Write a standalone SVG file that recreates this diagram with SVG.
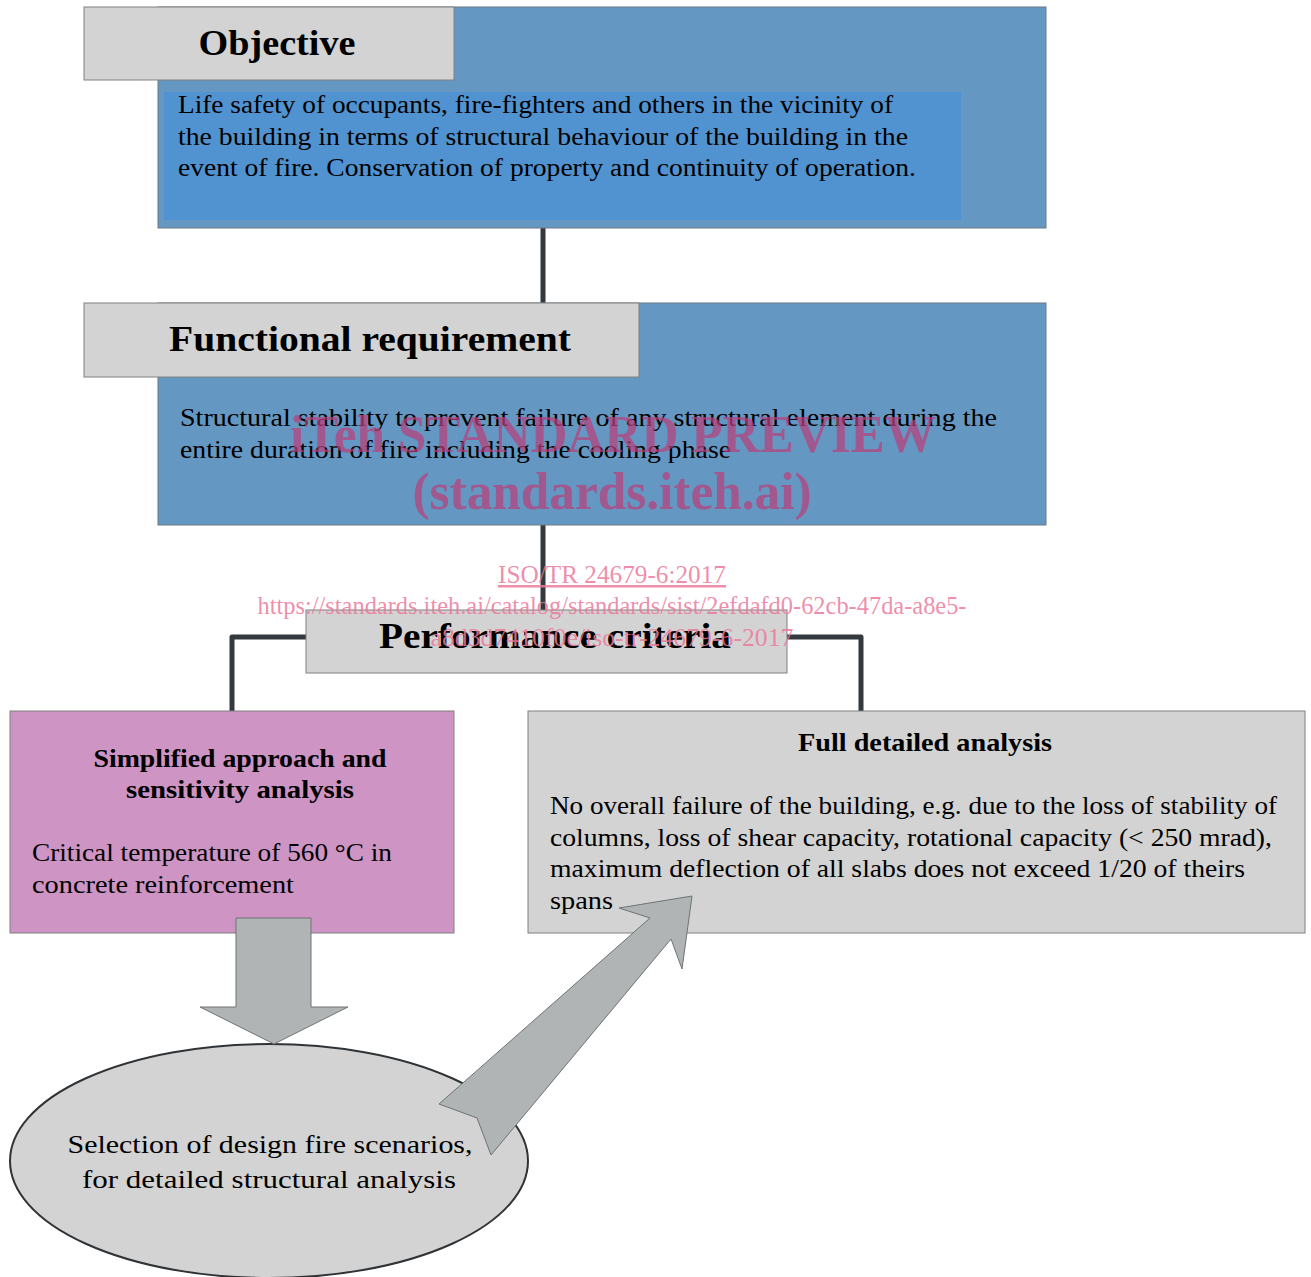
<svg xmlns="http://www.w3.org/2000/svg" width="1311" height="1277" viewBox="0 0 1311 1277">
<style>
.outer{fill:#6497c2;stroke:#6b7a88;stroke-width:1}
.inner{fill:#5093d0}
.hdr{fill:#d3d3d3;stroke:#808080;stroke-width:1}
.pink{fill:#cd94c4;stroke:#808080;stroke-width:1}
.gray{fill:#d3d3d3;stroke:#808080;stroke-width:1}
.arrow{fill:#b1b4b5;stroke:#6f7375;stroke-width:1}
.conn{fill:none;stroke:#33393d;stroke-width:5;stroke-linejoin:round;stroke-linecap:round}
text{font-family:"Liberation Serif","Times New Roman",serif;fill:#000}
.h1{font-size:35px;font-weight:bold}
.h2{font-size:25px;font-weight:bold}
.b{font-size:26px}
.wm1{font-size:52px;font-weight:bold;fill:#b8407c;fill-opacity:0.72}
.wm2{font-size:25px;fill:#ec7a9c;fill-opacity:0.85}
</style>
<g id="connectors">
<line class="conn" x1="543" y1="228" x2="543" y2="303"/>
<line class="conn" x1="543" y1="525" x2="543" y2="610"/>
<polyline class="conn" points="306,637 232,637 232,711"/>
<polyline class="conn" points="787,637 861,637 861,711"/>
</g>
<g id="objective">
<rect class="outer" x="158" y="7" width="888" height="221"/>
<rect class="inner" x="164" y="92" width="797" height="128"/>
<rect class="hdr" x="84" y="7" width="370" height="73"/>
<text class="h1" x="277" y="55" text-anchor="middle" textLength="157" lengthAdjust="spacingAndGlyphs">Objective</text>
<text class="b" x="178" y="113" textLength="715" lengthAdjust="spacingAndGlyphs">Life safety of occupants, fire-fighters and others in the vicinity of</text>
<text class="b" x="178" y="145" textLength="730" lengthAdjust="spacingAndGlyphs">the building in terms of structural behaviour of the building in the</text>
<text class="b" x="178" y="176" textLength="738" lengthAdjust="spacingAndGlyphs">event of fire. Conservation of property and continuity of operation.</text>
</g>
<g id="functional">
<rect class="outer" x="158" y="303" width="888" height="222"/>
<rect class="hdr" x="84" y="303" width="555" height="74"/>
<text class="h1" x="370" y="351" text-anchor="middle" textLength="402" lengthAdjust="spacingAndGlyphs">Functional requirement</text>
<text class="b" x="180" y="426" textLength="817" lengthAdjust="spacingAndGlyphs">Structural stability to prevent failure of any structural element during the</text>
<text class="b" x="180" y="458" textLength="551" lengthAdjust="spacingAndGlyphs">entire duration of fire including the cooling phase</text>
</g>
<g id="performance">
<rect class="hdr" x="306" y="610" width="481" height="63"/>
<text class="h1" x="555" y="648" text-anchor="middle" textLength="352" lengthAdjust="spacingAndGlyphs">Performance criteria</text>
</g>
<g id="simplified">
<rect class="pink" x="10" y="711" width="444" height="222"/>
<text class="h2" x="240" y="767" text-anchor="middle" textLength="293" lengthAdjust="spacingAndGlyphs">Simplified approach and</text>
<text class="h2" x="240" y="798" text-anchor="middle" textLength="228" lengthAdjust="spacingAndGlyphs">sensitivity analysis</text>
<text class="b" x="32" y="861" textLength="360" lengthAdjust="spacingAndGlyphs">Critical temperature of 560 °C in</text>
<text class="b" x="32" y="893" textLength="262" lengthAdjust="spacingAndGlyphs">concrete reinforcement</text>
</g>
<g id="full">
<rect class="gray" x="528" y="711" width="777" height="222"/>
<text class="h2" x="925" y="751" text-anchor="middle" textLength="254" lengthAdjust="spacingAndGlyphs">Full detailed analysis</text>
<text class="b" x="550" y="814" textLength="727" lengthAdjust="spacingAndGlyphs">No overall failure of the building, e.g. due to the loss of stability of</text>
<text class="b" x="550" y="846" textLength="722" lengthAdjust="spacingAndGlyphs">columns, loss of shear capacity, rotational capacity (&lt; 250 mrad),</text>
<text class="b" x="550" y="877" textLength="695" lengthAdjust="spacingAndGlyphs">maximum deflection of all slabs does not exceed 1/20 of theirs</text>
<text class="b" x="550" y="909" textLength="63" lengthAdjust="spacingAndGlyphs">spans</text>
</g>
<g id="selection">
<ellipse cx="269" cy="1161" rx="259" ry="117" fill="#d3d3d3" stroke="#2f3336" stroke-width="2"/>
<text class="b" x="270" y="1153" text-anchor="middle" font-size="28" textLength="405" lengthAdjust="spacingAndGlyphs">Selection of design fire scenarios,</text>
<text class="b" x="269" y="1188" text-anchor="middle" font-size="28" textLength="374" lengthAdjust="spacingAndGlyphs">for detailed structural analysis</text>
</g>
<g id="arrows">
<polygon class="arrow" points="236,918 311,918 311,1007 348,1007 274,1044 200,1007 236,1007"/>
<polygon class="arrow" points="692,896 682,969 671,939 491,1155 477,1118 439,1104 650,918 619,908"/>
</g>
<g id="watermark">
<text class="wm1" x="613" y="452" text-anchor="middle" textLength="646" lengthAdjust="spacingAndGlyphs">iTeh STANDARD PREVIEW</text>
<text class="wm1" x="612" y="509" text-anchor="middle" textLength="399" lengthAdjust="spacingAndGlyphs">(standards.iteh.ai)</text>
<text class="wm2" x="612" y="583" text-anchor="middle" text-decoration="underline" textLength="228" lengthAdjust="spacingAndGlyphs">ISO/TR 24679-6:2017</text>
<text class="wm2" x="612" y="614" text-anchor="middle" textLength="709" lengthAdjust="spacingAndGlyphs">https://standards.iteh.ai/catalog/standards/sist/2efdafd0-62cb-47da-a8e5-</text>
<text class="wm2" x="612" y="646" text-anchor="middle" textLength="363" lengthAdjust="spacingAndGlyphs">a8d3d7410f0e/iso-tr-24679-6-2017</text>
</g>
</svg>
